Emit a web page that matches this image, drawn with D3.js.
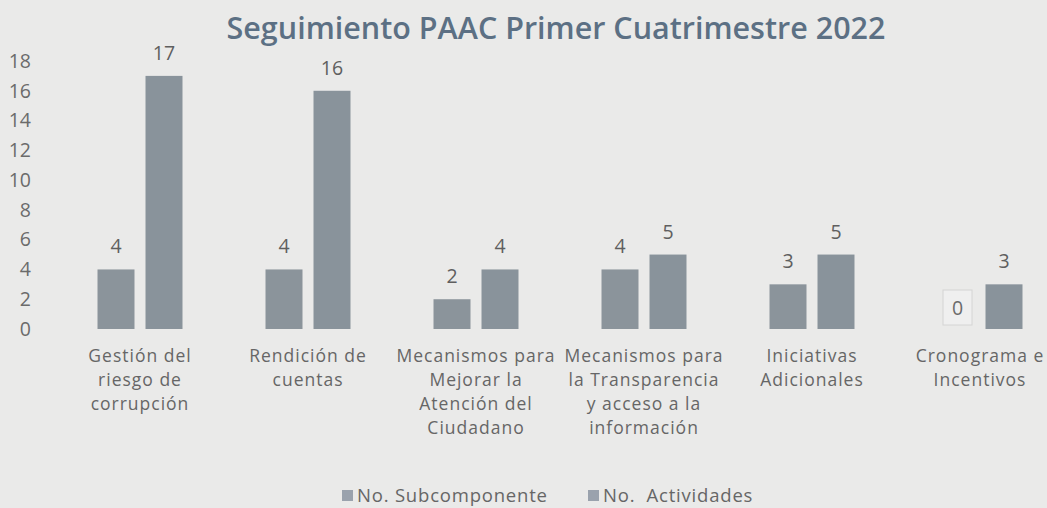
<!DOCTYPE html>
<html>
<head>
<meta charset="utf-8">
<script src="https://cdn.jsdelivr.net/npm/d3@7"></script>
<style>
  body { margin: 0; background: #eaeae9; overflow: hidden; }
  text { font-family: "Open Sans", sans-serif; }
</style>
</head>
<body>
<script>
var categories = [
    ["Gestión del", "riesgo de", "corrupción"],
    ["Rendición de", "cuentas"],
    ["Mecanismos para", "Mejorar la", "Atención del", "Ciudadano"],
    ["Mecanismos para", "la Transparencia", "y acceso a la", "información"],
    ["Iniciativas", "Adicionales"],
    ["Cronograma e", "Incentivos"]
];
var subcomponentes = [4, 4, 2, 4, 3, 0];
var actividades = [17, 16, 4, 5, 5, 3];
var seriesNames = ["No. Subcomponente", "No.  Actividades"];
var yTicks = [0, 2, 4, 6, 8, 10, 12, 14, 16, 18];

var width = 1047, height = 508;
var fs = 19.5;

var svg = d3.select("body").append("svg")
    .attr("width", width)
    .attr("height", height);

// title
svg.append("text")
    .attr("x", 556).attr("y", 39)
    .attr("text-anchor", "middle")
    .attr("font-size", 30.5)
    .attr("font-weight", 600)
    .attr("fill", "#5c7084")
    .text("Seguimiento PAAC Primer Cuatrimestre 2022");

var x = d3.scaleBand()
    .domain(d3.range(categories.length))
    .range([56, 1064])
    .paddingInner(0).paddingOuter(0);

var y = d3.scaleLinear()
    .domain([0, 18])
    .range([329, 61]);

// y axis, labels only
var yAxis = d3.axisLeft(y).tickValues(yTicks).tickSize(0).tickPadding(0);
var gy = svg.append("g")
    .attr("transform", "translate(31,0)")
    .call(yAxis);
gy.select(".domain").remove();
gy.selectAll("text")
    .attr("font-family", "Open Sans, sans-serif")
    .attr("font-size", fs)
    .attr("fill", "#6b6b6b");

var barW = 37, gap = 11;
var data = categories.map(function(c, i) {
    return {i: i, vals: [subcomponentes[i], actividades[i]]};
});

var groups = svg.selectAll("g.cat")
    .data(data)
    .enter().append("g")
    .attr("class", "cat")
    .attr("transform", function(d) {
        return "translate(" + (x(d.i) + x.bandwidth() / 2) + ",0)";
    });

var barColors = ["#8b949b", "#89939b"];

groups.each(function(d) {
    var g = d3.select(this);
    d.vals.forEach(function(v, k) {
        var bx = k === 0 ? -gap / 2 - barW : gap / 2;
        g.append("rect")
            .attr("x", bx)
            .attr("y", y(v))
            .attr("width", barW)
            .attr("height", y(0) - y(v))
            .attr("fill", barColors[k]);
        if (v === 0) {
            g.append("rect")
                .attr("x", bx + 5.5).attr("y", y(0) - 39)
                .attr("width", 29).attr("height", 35)
                .attr("fill", "#efefef")
                .attr("stroke", "#d4d4d4");
            g.append("text")
                .attr("x", bx + 20).attr("y", y(0) - 14)
                .attr("text-anchor", "middle")
                .attr("font-size", fs)
                .attr("fill", "#6b6b6b")
                .text(v);
        } else {
            g.append("text")
                .attr("x", bx + barW / 2)
                .attr("y", y(v) - 16)
                .attr("text-anchor", "middle")
                .attr("font-size", fs)
                .attr("fill", "#5f5f5f")
                .text(v);
        }
    });
    // category label, one tspan per line
    var t = g.append("text")
        .attr("text-anchor", "middle")
        .attr("font-size", 17.5)
        .attr("letter-spacing", 1)
        .attr("fill", "#666");
    categories[d.i].forEach(function(line, j) {
        t.append("tspan")
            .attr("x", 0)
            .attr("y", 362 + j * 24)
            .text(line);
    });
});

// legend
var legendX = [342, 588];
seriesNames.forEach(function(name, k) {
    svg.append("rect")
        .attr("x", legendX[k]).attr("y", 490)
        .attr("width", 11).attr("height", 11)
        .attr("fill", "#9aa2ad");
    svg.append("text")
        .attr("x", legendX[k] + 15).attr("y", 502)
        .attr("font-size", 18.5)
        .attr("letter-spacing", 0.8)
        .attr("fill", "#666")
        .style("white-space", "pre")
        .text(name);
});
</script>
</body>
</html>
